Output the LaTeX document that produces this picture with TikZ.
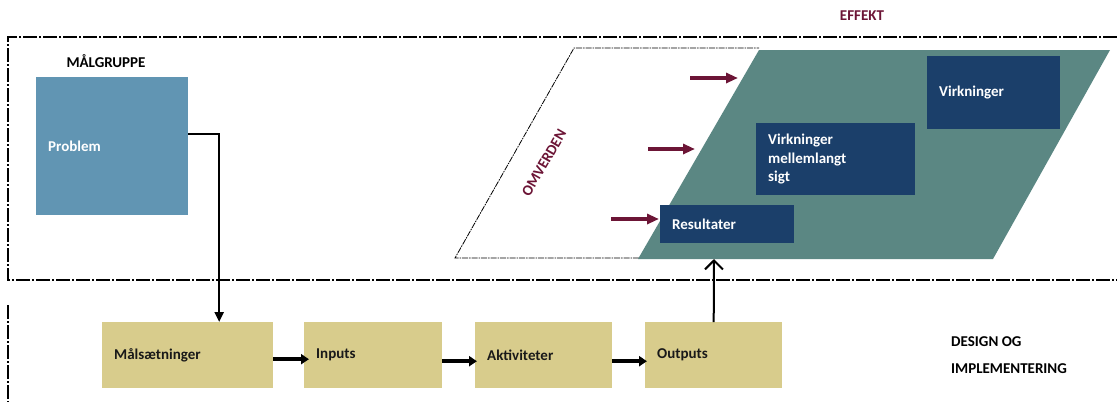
\documentclass[tikz,border=0pt]{standalone}
\usepackage{fontspec}
\setmainfont{Carlito}
\usepackage{tikz}
\usetikzlibrary{arrows.meta,calc}
\definecolor{probblue}{HTML}{6195B3}
\definecolor{effteal}{HTML}{5B8783}
\definecolor{effblue}{HTML}{1B3F6A}
\definecolor{designkhaki}{HTML}{D8CC8C}
\definecolor{omvmaroon}{HTML}{6C1536}
\tikzstyle{lbl}=[font=\bfseries\fontsize{15}{18.5}\selectfont, inner sep=0pt]
\tikzstyle{box}=[lbl, anchor=north west, align=left, inner xsep=12pt, inner ysep=0pt]
\tikzstyle{probbox}=[box, fill=probblue, text=white]
\tikzstyle{effbox}=[box, fill=effblue, text=white]
\tikzstyle{designbox}=[box, fill=designkhaki, text=black!90, text width=113pt, minimum height=66pt]
\tikzstyle{frame}=[line width=1.5pt, dash pattern=on 14pt off 2pt on 2pt off 2pt]
\tikzstyle{flow}=[line width=4pt, -{Triangle[length=8pt,width=10pt]}]
\tikzstyle{push}=[omvmaroon, line width=3.5pt, -{Triangle[length=12pt,width=10pt]}]

\begin{document}
\begin{tikzpicture}[x=1pt,y=-1pt]
	\useasboundingbox (0,0) rectangle (1117,402);
	% frames
	\draw[frame] (1117,37) -- (8,37) -- (8,280) -- (1117,280);
	\draw[frame] (8,305) -- (8,402);
	% omverden and effekt
	\draw[line width=0.8pt, dash pattern=on 6pt off 1pt on 1.5pt off 1pt] (639,258) -- (455,258) -- (574,48) -- (759,48);
	\fill[effteal] (638,259) -- (759,50) -- (1110,50) -- (993,259) -- cycle;
	\coordinate (tealbase) at (714,259);
	\node[lbl] (malgruppe) at (106,61) {MÅLGRUPPE};
	\node[lbl, text=omvmaroon] (effekt) at (862,16) {EFFEKT};
	\node[lbl, text=omvmaroon, rotate=60] (omverden) at (544,163) {OMVERDEN};
	\node[lbl, anchor=west] (design) at (951,342) {DESIGN OG};
	\node[lbl, anchor=west] (implement) at (951,369) {IMPLEMENTERING};
	% boxes
	\node[probbox, text width=128pt, minimum height=138pt] (problem) at (36,77) {Problem};
	\node[designbox, text width=147pt] (malsat) at (102,322) {Målsætninger};
	\node[designbox, text width=114pt] (inputs) at (304,322) {Inputs};
	\node[designbox] (aktiv) at (475,322) {Aktiviteter};
	\node[designbox] (outputs) at (645,322) {Outputs};
	\node[effbox, text width=110pt, minimum height=38pt] (result) at (660,205) {Resultater};
	\node[effbox, text width=135pt, minimum height=72pt] (mellem) at (756,123) {Virkninger\\mellemlangt\\sigt};
	\node[effbox, text width=109pt, minimum height=73pt] (virk) at (927,56) {Virkninger};
	% connectors
	\draw[line width=2.4pt, -{Triangle[length=10pt,width=9pt]}] ([yshift=12pt]problem.east) -| ([xshift=31.5pt]malsat.north);
	\draw[line width=2pt, -{Straight Barb[length=9pt,width=18pt]}] (outputs.north) -- (tealbase);
	\draw[flow] ([yshift=-4pt]malsat.east) -- ([yshift=-4pt,xshift=5pt]inputs.west);
	\draw[flow] ([yshift=-6pt]inputs.east) -- ([yshift=-6pt,xshift=2pt]aktiv.west);
	\draw[flow] ([yshift=-6pt]aktiv.east) -- ([yshift=-6pt,xshift=2pt]outputs.west);
	\foreach \i/\y/\xa/\xb in {1/78/690/738, 2/149/648/695, 3/219/611/659}{
		\coordinate (push\i a) at (\xa,\y);
		\coordinate (push\i b) at (\xb,\y);
		\draw[push] (push\i a) -- (push\i b);
	}
\end{tikzpicture}
\end{document}
